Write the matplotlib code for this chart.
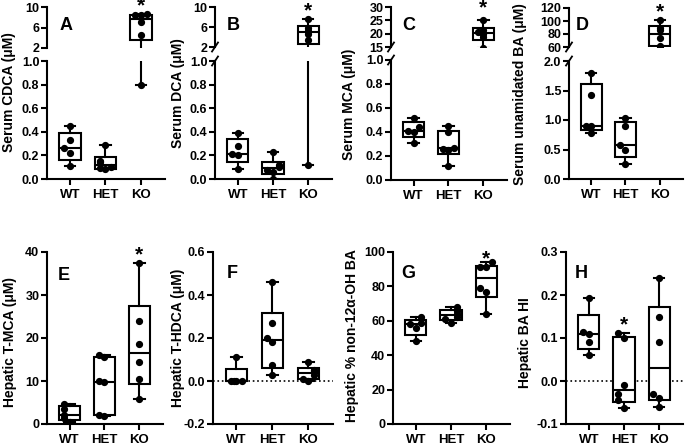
import numpy as np
import matplotlib
matplotlib.use("Agg")
import matplotlib.pyplot as plt

plt.rcParams['font.family'] = ['Liberation Sans', 'DejaVu Sans']
plt.rcParams['font.weight'] = 'bold'
plt.rcParams['axes.unicode_minus'] = False

genotypes = ['WT', 'HET', 'KO']

# A - serum CDCA (uM)
cdca_wt = [0.107, 0.22, 0.26, 0.33, 0.45]
cdca_het = [0.085, 0.09, 0.10, 0.14, 0.15, 0.29]
cdca_ko = [0.8, 4.5, 7.0, 8.4, 8.5, 8.6]
# B - serum DCA (uM)
dca_wt = [0.085, 0.20, 0.21, 0.28, 0.39]
dca_het = [0.0, 0.06, 0.08, 0.10, 0.12, 0.23]
dca_ko = [0.12, 3.4, 4.7, 5.2, 5.8, 7.7]
# C - serum MCA (uM)
mca_wt = [0.31, 0.40, 0.41, 0.44, 0.52]
mca_het = [0.12, 0.25, 0.26, 0.27, 0.40, 0.45]
mca_ko = [14.5, 18.8, 19.9, 20.5, 21.2, 25.0]
# D - serum unamidated BA (uM)
unam_wt = [0.78, 0.89, 0.90, 1.43, 1.79]
unam_het = [0.26, 0.50, 0.58, 0.90, 1.03]
unam_ko = [58, 62, 74, 86, 89, 101]
# E - hepatic T-MCA (uM)
tmca_wt = [0.4, 1.3, 2.2, 3.6, 4.6]
tmca_het = [1.8, 2.2, 9.7, 10.0, 15.5, 16.0]
tmca_ko = [5.9, 10.5, 14.4, 18.6, 24.0, 37.4]
# F - hepatic T-HDCA (uM)
thdca_wt = [0.0, 0.0, 0.0, 0.0, 0.11]
thdca_het = [0.028, 0.074, 0.18, 0.20, 0.27, 0.46]
thdca_ko = [0.0, 0.01, 0.03, 0.045, 0.05, 0.087]
# G - hepatic % non-12a-OH BA
non12_wt = [48, 56, 58, 58.5, 62]
non12_het = [59, 61, 62.5, 64, 65.5, 68]
non12_ko = [64, 77, 79, 91, 91, 94]
# H - hepatic BA hydrophobicity index
hi_wt = [0.06, 0.09, 0.11, 0.115, 0.192]
hi_het = [-0.062, -0.045, -0.03, -0.01, 0.10, 0.112]
hi_ko = [-0.06, -0.04, -0.03, 0.09, 0.15, 0.24]

W, H = 685, 447
fig = plt.figure(figsize=(W / 100, H / 100), dpi=100)
XLIM = (-0.65, 2.68)
LW = 1.5


def px_axes(x0, y0, x1, y1):
    return fig.add_axes([x0 / W, 1 - y1 / H, (x1 - x0) / W, (y1 - y0) / H])


def box_stats(vals):
    v = np.asarray(vals, dtype=float)
    q1, med, q3 = np.percentile(v, [25, 50, 75], method='weibull')
    return dict(med=med, q1=q1, q3=q3, whislo=v.min(), whishi=v.max(), fliers=[])


def spread(vals, tol):
    offs = []
    for i, v in enumerate(vals):
        near = sum(abs(v - w) < tol for w in vals[:i])
        offs.append([0, -0.16, 0.16, -0.08, 0.08][near % 5])
    return np.array(offs)


def draw(ax, groups, ylim):
    line = dict(color='k', lw=LW)
    ax.bxp([box_stats(g) for g in groups], positions=[0, 1, 2], widths=0.6,
           showfliers=False, patch_artist=True, capwidths=0.3,
           boxprops=dict(facecolor='white', edgecolor='k', lw=LW),
           whiskerprops=line, capprops=line, medianprops=line)
    tol = 0.045 * (ylim[1] - ylim[0])
    for i, g in enumerate(groups):
        ax.plot(i + spread(g, tol), g, 'o', color='k', ms=4.2, zorder=5)
    ax.set_xlim(*XLIM)
    ax.set_ylim(*ylim)


def style(ax, yticks, fmt, xaxis=True):
    ax.set_yticks(yticks)
    ax.set_yticklabels([fmt.format(t) for t in yticks])
    for s in ['top', 'right']:
        ax.spines[s].set_visible(False)
    ax.spines['left'].set_linewidth(LW)
    ax.tick_params(axis='both', width=LW, length=4, labelsize=9, pad=1.5)
    if xaxis:
        ax.spines['bottom'].set_linewidth(LW)
        ax.set_xticks([0, 1, 2])
        ax.set_xticklabels(genotypes, fontsize=9.5)
        ax.tick_params(axis='x', pad=3)
    else:
        ax.spines['bottom'].set_visible(False)
        ax.set_xticks([])


def slash(ax, where):
    # small diagonal break mark on the left spine
    bb = ax.get_position()
    dx = 3.0 / (bb.width * W)
    dy = 4.5 / (bb.height * H)
    y = 0 if where == 'bottom' else 1
    ax.plot([-dx, dx], [y - dy, y + dy], color='k', lw=1.3,
            transform=ax.transAxes, clip_on=False)


def broken_panel(x0, x1, top_px, bot_px, groups, top_lim, top_ticks, top_fmt,
                 bot_lim, bot_ticks, bot_fmt, marks):
    at = px_axes(x0, top_px[0], x1, top_px[1])
    ab = px_axes(x0, bot_px[0], x1, bot_px[1])
    draw(at, groups, top_lim)
    draw(ab, groups, bot_lim)
    style(at, top_ticks, top_fmt, xaxis=False)
    style(ab, bot_ticks, bot_fmt)
    if marks:
        slash(at, 'bottom')
        slash(ab, 'top')
    return at, ab


def text_px(x, y, s, **kw):
    fig.text(x / W, 1 - y / H, s, ha='center', va='center', **kw)


def star(ax, cat, ycen, fs=15):
    # asterisk above a group; ycen = glyph centre in pixels from the top
    xd = ax.transData.transform((cat, 0))[0]
    base = ycen + 0.33 * fs * 100 / 72
    fig.text(xd / W, 1 - base / H, '*', ha='center', va='baseline', fontsize=fs)


# ---- top row (broken y axes) ----
at, ab = broken_panel(47, 165, (7, 48), (61, 179),
                      [cdca_wt, cdca_het, cdca_ko], (2, 10), [2, 6, 10], '{:g}',
                      (0, 1.0), np.arange(0, 1.01, 0.2), '{:.1f}', False)
star(at, 2, 5)

at, ab = broken_panel(215, 332, (7, 47), (61, 179),
                      [dca_wt, dca_het, dca_ko], (2, 10), [2, 6, 10], '{:g}',
                      (0, 1.0), np.arange(0, 1.01, 0.2), '{:.1f}', True)
star(at, 2, 10)

at, ab = broken_panel(391, 507, (7, 47), (60, 180),
                      [mca_wt, mca_het, mca_ko], (15, 30), [15, 20, 25, 30], '{:g}',
                      (0, 1.0), np.arange(0, 1.01, 0.2), '{:.1f}', True)
star(at, 2, 7)

at, ab = broken_panel(569, 683, (8, 47), (61, 179),
                      [unam_wt, unam_het, unam_ko], (60, 120), [60, 80, 100, 120], '{:g}',
                      (0, 2.0), np.arange(0, 2.01, 0.5), '{:.1f}', True)
star(at, 2, 11)

# ---- bottom row ----
ax = px_axes(47, 252, 163, 424)
draw(ax, [tmca_wt, tmca_het, tmca_ko], (0, 40))
style(ax, [0, 10, 20, 30, 40], '{:g}')
star(ax, 2, 254)

ax = px_axes(213, 252, 333, 424)
draw(ax, [thdca_wt, thdca_het, thdca_ko], (-0.2, 0.6))
style(ax, [-0.2, 0.0, 0.2, 0.4, 0.6], '{:.1f}')
ax.axhline(0, color='k', ls=':', lw=1.2, zorder=0)

ax = px_axes(393, 252, 510, 424)
draw(ax, [non12_wt, non12_het, non12_ko], (0, 100))
style(ax, [0, 20, 40, 60, 80, 100], '{:g}')
star(ax, 2, 258)

ax = px_axes(566, 252, 683, 424)
draw(ax, [hi_wt, hi_het, hi_ko], (-0.1, 0.3))
style(ax, [-0.1, 0.0, 0.1, 0.2, 0.3], '{:.1f}')
ax.axhline(0, color='k', ls=':', lw=1.2, zorder=0)
star(ax, 1, 324)

# ---- axis titles and panel letters ----
ylab = [('Serum CDCA (\u03bcM)', 9, 92), ('Serum DCA (\u03bcM)', 178, 93),
        ('Serum MCA (\u03bcM)', 349, 104), ('Serum unamidated BA (\u03bcM)', 520, 94),
        ('Hepatic T-MCA (\u03bcM)', 10, 342), ('Hepatic T-HDCA (\u03bcM)', 178, 338),
        ('Hepatic % non-12\u03b1-OH BA', 352, 336), ('Hepatic BA HI', 525, 343)]
for s, x, y in ylab:
    text_px(x, y, s, rotation=90, fontsize=10)

for s, x, y in [('A', 66, 25), ('B', 233, 25), ('C', 409, 25), ('D', 582, 25),
                ('E', 64, 275), ('F', 232, 274), ('G', 408, 274), ('H', 581, 274)]:
    text_px(x, y, s, fontsize=13)

fig.savefig('out.png', dpi=100)
